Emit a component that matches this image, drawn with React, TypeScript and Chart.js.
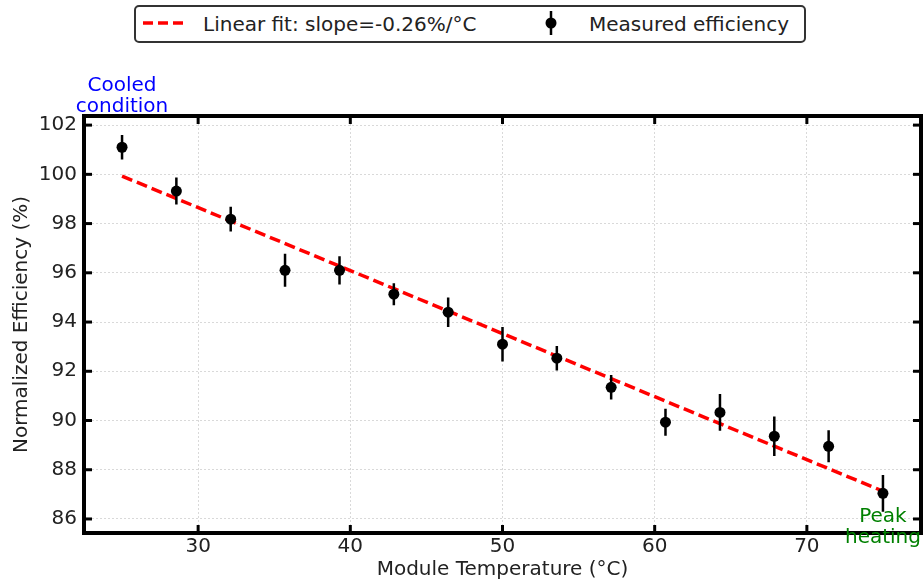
import React, { useEffect, useRef } from "react";
import { Chart, registerables } from "chart.js";

Chart.register(...registerables);

// ---- data ----
const temperatures = [25, 28.57, 32.14, 35.71, 39.29, 42.86, 46.43, 50, 53.57, 57.14, 60.71, 64.29, 67.86, 71.43, 75];
const efficiency = [101.1, 99.32, 98.18, 96.1, 96.1, 95.13, 94.4, 93.1, 92.53, 91.35, 89.93, 90.33, 89.36, 88.95, 87.04];
const errors = [0.5, 0.55, 0.5, 0.67, 0.57, 0.45, 0.6, 0.7, 0.5, 0.5, 0.55, 0.75, 0.8, 0.65, 0.75];
const fitX = [25, 75];
const fitY = [99.93, 87.13];
const xTicks = [30, 40, 50, 60, 70];
const yTicks = [86, 88, 90, 92, 94, 96, 98, 100, 102];
const legendLabels = ["Linear fit: slope=-0.26%/°C", "Measured efficiency"];
const xTitle = "Module Temperature (°C)";
const yTitle = "Normalized Efficiency (%)";
const coolLabel = ["Cooled", "condition"];
const heatLabel = ["Peak", "heating"];

// annotation anchors (data coordinates)
const coolAnchor = { x: 25, y: 102.52 };
const heatAnchor = { x: 75, y: 85.88 };

const FONT = "DejaVu Sans";
const TEXT = "#222";

const framePlugin = {
  id: "frameTicks",
  afterDraw(chart: any) {
    const { ctx, chartArea, scales } = chart;
    const { left, right, top, bottom } = chartArea;
    const xs = scales.x;
    const ys = scales.y;
    ctx.save();
    ctx.strokeStyle = "#000";
    ctx.lineWidth = 3;
    ctx.lineCap = "butt";
    const seg = (x1: number, y1: number, x2: number, y2: number) => {
      ctx.beginPath();
      ctx.moveTo(x1, y1);
      ctx.lineTo(x2, y2);
      ctx.stroke();
    };
    for (const v of xTicks) {
      const px = xs.getPixelForValue(v);
      seg(px, bottom, px, bottom - 8);
      seg(px, top, px, top + 8);
    }
    for (const v of yTicks) {
      const py = ys.getPixelForValue(v);
      seg(left, py, left + 8, py);
      seg(right, py, right - 8, py);
    }
    ctx.lineWidth = 4;
    ctx.strokeRect(left, top, right - left, bottom - top);

    ctx.font = `20px "${FONT}"`;
    ctx.textAlign = "center";
    ctx.textBaseline = "alphabetic";
    ctx.fillStyle = "#0000ff";
    const cx = xs.getPixelForValue(coolAnchor.x);
    const cy = ys.getPixelForValue(coolAnchor.y);
    ctx.fillText(coolLabel[0], cx, cy - 21);
    ctx.fillText(coolLabel[1], cx, cy);

    ctx.fillStyle = "#008000";
    const hx = xs.getPixelForValue(heatAnchor.x);
    const hy = ys.getPixelForValue(heatAnchor.y);
    ctx.fillText(heatLabel[0], hx, hy);
    ctx.fillText(heatLabel[1], hx, hy + 21);
    ctx.restore();
  },
};

export default function App() {
  const canvasRef = useRef<HTMLCanvasElement | null>(null);

  useEffect(() => {
    if (!canvasRef.current) return;
    const points = temperatures.map((t, i) => ({ x: t, y: efficiency[i] }));
    const errData: any[] = [];
    temperatures.forEach((t, i) => {
      errData.push({ x: t, y: efficiency[i] - errors[i] });
      errData.push({ x: t, y: efficiency[i] + errors[i] });
      errData.push({ x: t, y: null });
    });
    const fitData = fitX.map((t, i) => ({ x: t, y: fitY[i] }));

    const chart = new Chart(canvasRef.current, {
      type: "line",
      data: {
        datasets: [
          {
            label: legendLabels[0],
            data: fitData,
            borderColor: "#ff0000",
            borderWidth: 3.5,
            borderDash: [11, 5],
            pointRadius: 0,
            fill: false,
            order: 3,
          },
          {
            label: "errors",
            data: errData,
            borderColor: "#000",
            borderWidth: 2.5,
            pointRadius: 0,
            spanGaps: false,
            fill: false,
            order: 2,
          },
          {
            label: legendLabels[1],
            data: points,
            showLine: false,
            pointRadius: 5.5,
            pointBackgroundColor: "#000",
            pointBorderWidth: 0,
            borderColor: "#000",
            order: 1,
          },
        ],
      } as any,
      options: {
        responsive: false,
        animation: false,
        layout: { autoPadding: false, padding: { top: 116, right: 2, left: 0, bottom: 0 } },
        plugins: { legend: { display: false }, tooltip: { enabled: false } },
        scales: {
          x: {
            type: "linear",
            min: 22.5,
            max: 77.5,
            afterBuildTicks: (s: any) => {
              s.ticks = xTicks.map((v) => ({ value: v }));
            },
            afterFit: (s: any) => {
              s.height = 52;
            },
            grid: { color: "rgba(0,0,0,0.15)", lineWidth: 1, drawTicks: false },
            border: { display: false, dash: [2, 2] },
            ticks: { color: TEXT, font: { family: FONT, size: 20 }, padding: 2, autoSkip: false, maxRotation: 0 },
            title: { display: true, text: xTitle, color: TEXT, font: { family: FONT, size: 20 }, padding: { top: 0, bottom: 3 } },
          },
          y: {
            type: "linear",
            min: 85.43,
            max: 102.37,
            afterBuildTicks: (s: any) => {
              s.ticks = yTicks.map((v) => ({ value: v }));
            },
            afterFit: (s: any) => {
              s.width = 84;
            },
            grid: { color: "rgba(0,0,0,0.15)", lineWidth: 1, drawTicks: false },
            border: { display: false, dash: [2, 2] },
            ticks: { color: TEXT, font: { family: FONT, size: 20 }, padding: 7, autoSkip: false },
            title: { display: true, text: yTitle, color: TEXT, font: { family: FONT, size: 20 }, padding: { top: 10, bottom: 0 } },
          },
        },
      } as any,
      plugins: [framePlugin],
    });
    return () => chart.destroy();
  }, []);

  return (
    <div style={{ position: "fixed", left: 0, top: 0, width: 923, height: 585, background: "#fff", overflow: "hidden" }}>
      <canvas ref={canvasRef} width={923} height={585} style={{ position: "absolute", left: 0, top: 0 }} />
      <div
        style={{
          position: "absolute",
          left: 134,
          top: 5,
          width: 672,
          height: 38,
          boxSizing: "border-box",
          border: "2px solid #333",
          borderRadius: 5,
          background: "#fff",
          fontFamily: FONT,
          fontSize: 20,
          lineHeight: "20px",
          color: TEXT,
        }}
      >
        <svg width={668} height={34} style={{ position: "absolute", left: 0, top: 0 }}>
          <line x1={7} y1={16} x2={49} y2={16} stroke="#ff0000" strokeWidth={3.5} strokeDasharray="10 5" />
          <line x1={415} y1={4} x2={415} y2={28} stroke="#000" strokeWidth={2.5} />
          <circle cx={415} cy={16} r={5.5} fill="#000" />
        </svg>
        <span style={{ position: "absolute", left: 67, top: 7, whiteSpace: "nowrap" }}>{legendLabels[0]}</span>
        <span style={{ position: "absolute", left: 453, top: 7, whiteSpace: "nowrap" }}>{legendLabels[1]}</span>
      </div>
    </div>
  );
}
